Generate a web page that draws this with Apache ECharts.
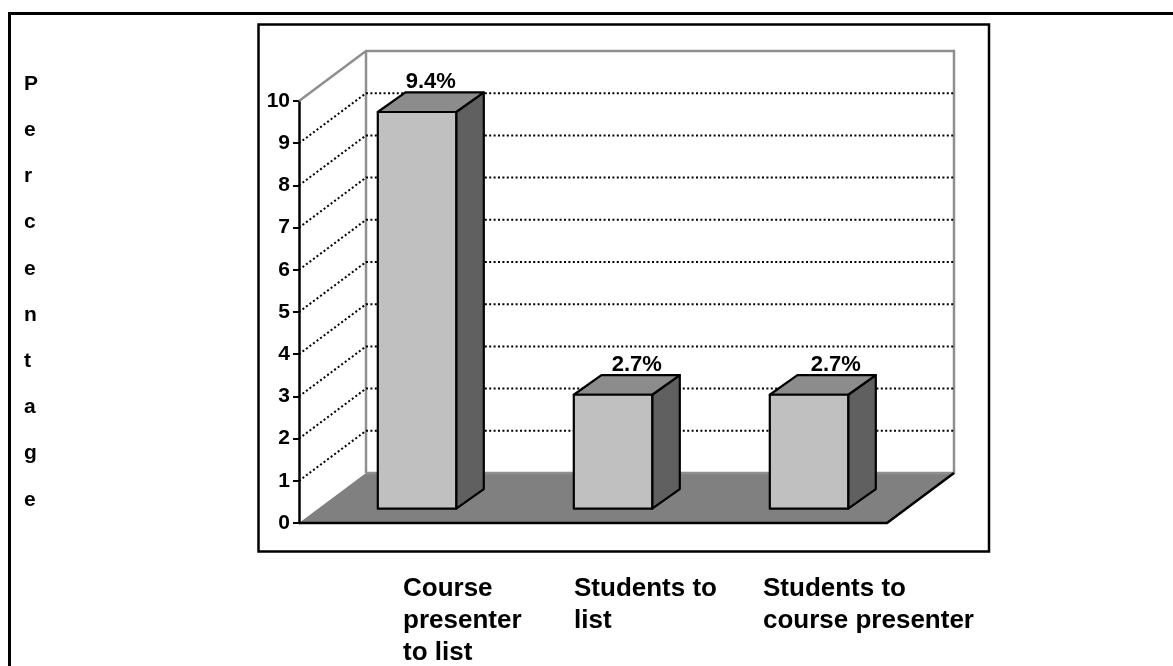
<!DOCTYPE html>
<html>
<head>
<meta charset="utf-8">
<style>html,body{margin:0;padding:0;background:#fff}#chart{width:1173px;height:666px}</style>
<script src="https://cdn.jsdelivr.net/npm/echarts@6/dist/echarts.min.js"></script>
</head>
<body>
<div id="chart"></div>
<script>
const categories = ['Course\npresenter\nto list', 'Students to\nlist', 'Students to\ncourse presenter'];
const percentages = [9.4, 2.7, 2.7];
const valueTicks = [0, 1, 2, 3, 4, 5, 6, 7, 8, 9, 10];
const axisTitle = 'Percentage';

const FONT = '"Liberation Sans", Arial, sans-serif';
// Oblique projection of the plot box: how far the back wall sits from the front plane.
const WALL_DX = 67, WALL_DY = -50;
// Bars stand part-way into the floor and are this deep.
const BAR_SHIFT_X = 20, BAR_SHIFT_Y = -14.3, BAR_DX = 27.6, BAR_DY = -19.6;
// Horizontal nudges of the value labels and left edges of the category captions.
const LABEL_NUDGE = [0, 10, 13];
const CAPTION_LEFT = [403, 574, 763];

const chart = echarts.init(document.getElementById('chart'), null, {renderer: 'canvas'});

function poly(points, fill, stroke, width) {
  return {type: 'polygon', shape: {points}, style: {fill, stroke: stroke || null, lineWidth: width || 0, lineJoin: 'round'}};
}
function line(points, stroke, width, dash) {
  return {type: 'polyline', shape: {points}, style: {fill: null, stroke, lineWidth: width, lineDash: dash || null, lineCap: 'butt'}};
}

// Floor and back wall of the box.
function renderShell(params, api) {
  const g = params.coordSys;
  const x0 = g.x, x1 = g.x + g.width, y0 = api.coord([0, 0])[1], yTop = api.coord([0, 10])[1];
  const bx0 = x0 + WALL_DX, bx1 = x1 + WALL_DX, by0 = y0 + WALL_DY, byTop = yTop + WALL_DY;
  return {type: 'group', children: [
    poly([[x0, y0], [x1, y0], [bx1, by0], [bx0, by0]], '#808080'),
    line([[x0, yTop], [bx0, byTop], [bx1, byTop], [bx1, by0], [bx0, by0]], '#8f8f8f', 2.5),
    line([[bx0, byTop], [bx0, by0]], '#8f8f8f', 2.5),
    line([[x0, y0], [x1, y0], [bx1, by0]], '#000', 2.5)
  ]};
}

// One dotted gridline per value tick, running up the side wall and across the back wall.
function renderGrid(params, api) {
  const g = params.coordSys;
  const v = api.value(0);
  const y = api.coord([0, v])[1];
  return line([[g.x, y], [g.x + WALL_DX, y + WALL_DY], [g.x + g.width + WALL_DX, y + WALL_DY]], '#000', 2, [2, 2.4]);
}

function renderBar(params, api) {
  const idx = api.value(0), val = api.value(1);
  const c = api.coord([idx, val]), base = api.coord([idx, 0]);
  const w = api.size([1, 0])[0] * 0.4;
  const l = c[0] - w / 2 + BAR_SHIFT_X, r = c[0] + w / 2 + BAR_SHIFT_X;
  const t = c[1] + BAR_SHIFT_Y, b = base[1] + BAR_SHIFT_Y;
  return {type: 'group', children: [
    poly([[r, t], [r + BAR_DX, t + BAR_DY], [r + BAR_DX, b + BAR_DY], [r, b]], '#606060', '#000', 2.2),
    poly([[l, t], [l + BAR_DX, t + BAR_DY], [r + BAR_DX, t + BAR_DY], [r, t]], '#8c8c8c', '#000', 2.2),
    poly([[l, t], [r, t], [r, b], [l, b]], '#c0c0c0', '#000', 2.2),
    {type: 'text', style: {
      text: val.toFixed(1) + '%',
      x: (l + r + BAR_DX) / 2 + LABEL_NUDGE[idx],
      y: t + BAR_DY + 1,
      align: 'center', verticalAlign: 'bottom',
      font: 'bold 22px ' + FONT, fill: '#000'
    }}
  ]};
}

chart.setOption({
  animation: false,
  backgroundColor: '#fff',
  grid: {left: 299, top: 101, width: 588, height: 422},
  xAxis: {type: 'category', data: categories, axisLine: {show: false}, axisTick: {show: false}, axisLabel: {show: false}, splitLine: {show: false}},
  yAxis: {
    type: 'value', min: 0, max: 10, interval: 1,
    splitLine: {show: false},
    axisLine: {show: true, lineStyle: {color: '#000', width: 2.5}},
    axisTick: {show: true, length: 6, lineStyle: {color: '#000', width: 2}},
    axisLabel: {margin: 9, color: '#000', fontFamily: FONT, fontWeight: 'bold', fontSize: 21}
  },
  series: [
    {type: 'custom', silent: true, z: 1, clip: false, data: [0], renderItem: renderShell, encode: {x: 0}},
    {type: 'custom', silent: true, z: 2, clip: false, data: valueTicks.filter(v => v > 0 && v < 10).map(v => [v]), renderItem: renderGrid, encode: {y: 0}},
    {type: 'custom', silent: true, z: 3, clip: false, data: percentages.map((v, i) => [i, v]), renderItem: renderBar, encode: {x: 0, y: 1}}
  ],
  graphic: [
    {type: 'rect', silent: true, z: -1, shape: {x: 258.5, y: 24.5, width: 730.5, height: 527}, style: {fill: '#fff', stroke: '#000', lineWidth: 2.5}},
    {type: 'polyline', silent: true, shape: {points: [[9.5, 666], [9.5, 13.5], [1173, 13.5]]}, style: {fill: null, stroke: '#000', lineWidth: 3}},
    {type: 'text', silent: true, style: {text: axisTitle.split('').join('\n'), x: 24, y: 61, font: 'bold 21px ' + FONT, lineHeight: 46.2, fill: '#000'}}
  ].concat(categories.map((c, i) => ({
    type: 'text', silent: true,
    style: {text: c, x: CAPTION_LEFT[i], y: 573, font: 'bold 26px ' + FONT, lineHeight: 32, fill: '#000'}
  })))
});
</script>
</body>
</html>
